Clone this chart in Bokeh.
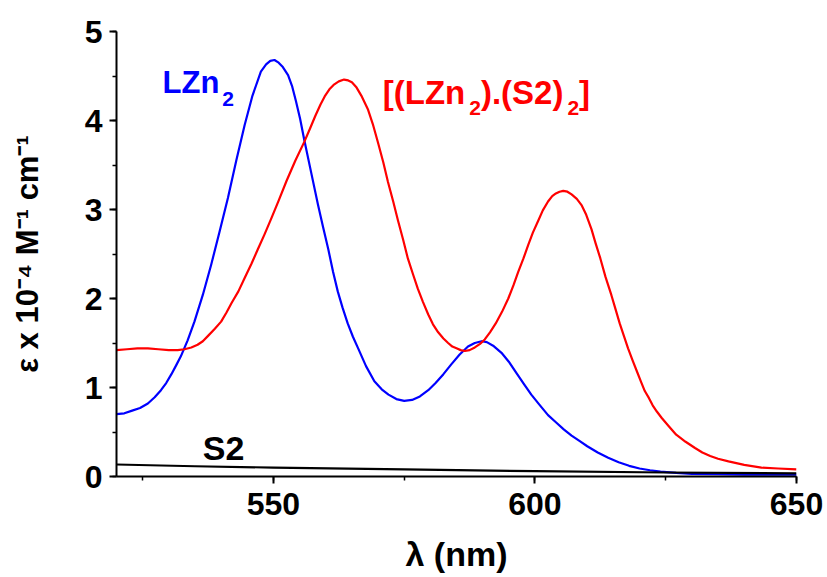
from bokeh.plotting import figure
from bokeh.models import Label, SingleIntervalTicker, Range1d
from bokeh.embed import file_html
from bokeh.resources import INLINE

# ---- data ----
lzn2_wl = [520, 521.5, 523, 524.5, 526, 527.3, 528.5, 529.5, 530.5, 531.5, 532.3, 533.6, 534.9,
           536.5, 538.1, 539.7, 541.3, 542.9, 544.5, 546, 547.6, 548.6, 549.4, 550.2, 551, 551.8,
           552.8, 553.6, 554.3, 555.1, 555.9, 557.2, 558.5, 559.5, 560.5, 561.4, 562.3, 563.2,
           564.2, 565.2, 566.2, 567.7, 569.3, 570.7, 572, 573.5, 575, 576.5, 578, 579.6, 581,
           582.5, 584, 585.6, 587.2, 588.5, 589.8, 590.8, 592, 593.6, 595, 596.5, 598, 599.3,
           600.8, 602.5, 604, 605.5, 607, 608.5, 610, 612, 614, 616, 618, 620, 622, 624, 627,
           630, 635, 640, 650]
lzn2_eps = [0.70, 0.71, 0.74, 0.77, 0.82, 0.89, 0.97, 1.05, 1.15, 1.26, 1.35, 1.53, 1.74,
            2.04, 2.38, 2.75, 3.13, 3.55, 3.95, 4.28, 4.55, 4.63, 4.67, 4.68, 4.65, 4.60,
            4.51, 4.38, 4.22, 4.02, 3.78, 3.42, 3.06, 2.80, 2.55, 2.30, 2.08, 1.90,
            1.72, 1.57, 1.44, 1.24, 1.07, 0.98, 0.92, 0.87, 0.85, 0.86, 0.90, 0.97, 1.05,
            1.15, 1.26, 1.37, 1.46, 1.50, 1.52, 1.51, 1.47, 1.39, 1.29, 1.16, 1.03, 0.92,
            0.81, 0.69, 0.61, 0.53, 0.46, 0.40, 0.34, 0.27, 0.21, 0.16, 0.12, 0.09, 0.07, 0.055, 0.04,
            0.03, 0.025, 0.02, 0.02]

complex_wl = [520, 522, 524, 526, 528, 530, 531.7, 533, 534.3, 535.5, 536.5, 537.5, 538.8, 540,
              541, 542, 543.3, 544.5, 545.8, 547, 548.3, 549.6, 551, 552.5, 554.2, 555.9, 557,
              558, 559, 559.8, 560.7, 561.5, 562.5, 563.5, 564.3, 565, 565.9, 566.8, 568.1, 569,
              570, 571, 571.9, 572.9, 573.8, 574.8, 575.7, 576.7, 577.6, 578.6, 579.6, 580.5,
              581.5, 582.5, 583.4, 584.2, 585, 585.8, 586.6, 587.5, 588.5, 589.5, 590.4, 591.4,
              592.5, 593.7, 594.9, 595.9, 596.8, 597.8, 598.7, 599.6, 600.6, 601.5, 602.5, 603.3,
              604, 604.7, 605.4, 606.2, 607, 608, 608.9, 609.8, 610.8, 611.6, 612.5, 613.5, 614.6,
              615.4, 616.2, 617, 617.8, 618.7, 619.5, 620.3, 621, 621.8, 622.5, 623.3, 624.2,
              625.5, 627, 628.8, 630.6, 632, 633.5, 635, 637, 640, 643.3, 646.5, 650]
complex_eps = [1.42, 1.43, 1.44, 1.44, 1.43, 1.42, 1.42, 1.43, 1.45, 1.48, 1.52, 1.58, 1.66, 1.74,
               1.84, 1.95, 2.08, 2.23, 2.39, 2.55, 2.72, 2.90, 3.10, 3.32, 3.55, 3.76, 3.91,
               4.05, 4.18, 4.27, 4.35, 4.40, 4.44, 4.46, 4.45, 4.43, 4.37, 4.28, 4.12, 3.96,
               3.75, 3.53, 3.31, 3.09, 2.88, 2.66, 2.45, 2.27, 2.11, 1.96, 1.82, 1.71,
               1.62, 1.55, 1.50, 1.46, 1.44, 1.42, 1.41, 1.42, 1.45, 1.49, 1.54, 1.62,
               1.72, 1.85, 2.00, 2.15, 2.30, 2.45, 2.60, 2.74, 2.87, 2.99, 3.09, 3.15,
               3.18, 3.20, 3.21, 3.20, 3.17, 3.12, 3.05, 2.94, 2.78, 2.62, 2.45, 2.24, 2.04,
               1.88, 1.72, 1.58, 1.44, 1.30, 1.18, 1.06, 0.96, 0.88, 0.80, 0.73, 0.66,
               0.57, 0.47, 0.39, 0.32, 0.27, 0.23, 0.20, 0.17, 0.13, 0.10, 0.09, 0.08]

s2_wl = [520, 535, 550, 575, 600, 625, 650]
s2_eps = [0.135, 0.115, 0.10, 0.08, 0.06, 0.045, 0.035]

FONT = "Liberation Sans"

p = figure(width=827, height=577, output_backend="svg", toolbar_location=None,
           x_range=Range1d(520, 650), y_range=Range1d(0, 5),
           min_border_left=116, min_border_right=31, min_border_top=31, min_border_bottom=101)
p.outline_line_color = None
p.xgrid.visible = False
p.ygrid.visible = False
p.background_fill_color = "white"
p.border_fill_color = "white"

p.line(lzn2_wl, lzn2_eps, line_color="#0000FF", line_width=2.2, line_join="round")
p.line(complex_wl, complex_eps, line_color="#FF0000", line_width=2.2, line_join="round")
p.line(s2_wl, s2_eps, line_color="black", line_width=2.2, line_join="round")

p.xaxis.ticker = SingleIntervalTicker(interval=50, num_minor_ticks=2)
p.yaxis.ticker = SingleIntervalTicker(interval=1, num_minor_ticks=2)

for ax in (p.xaxis[0], p.yaxis[0]):
    ax.axis_line_width = 2
    ax.axis_line_color = "black"
    ax.major_tick_line_width = 2
    ax.minor_tick_line_width = 1.5
    ax.major_tick_in = 0
    ax.major_tick_out = 7
    ax.minor_tick_in = 0
    ax.minor_tick_out = 4
    ax.major_label_text_font = FONT
    ax.major_label_text_font_style = "bold"
    ax.major_label_text_font_size = "32px"
    ax.major_label_text_color = "black"
    ax.axis_label_text_font = FONT
    ax.axis_label_text_font_style = "bold"
    ax.axis_label_text_color = "black"

p.xaxis.axis_label = "λ (nm)"
p.xaxis.axis_label_text_font_size = "34px"
p.xaxis.major_label_standoff = 9
p.xaxis.axis_label_standoff = 17
p.yaxis.axis_label = "ε x 10⁻⁴ M⁻¹ cm⁻¹"
p.yaxis.axis_label_text_font_size = "31px"
p.yaxis.major_label_standoff = 7
p.yaxis.axis_label_standoff = 37

MID = 0.3465  # distance (em) from middle of the text box down to the baseline


def add_text(x, y, pieces, color, size, sub_size, sub_drop, gap):
    """pieces: list of (text, is_subscript, advance_em); (x, y) is the baseline start."""
    off = 0.0
    for txt, is_sub, adv in pieces:
        fs = sub_size if is_sub else size
        if is_sub:
            off += gap
        dy = MID * fs - (sub_drop if is_sub else 0)
        p.add_layout(Label(x=x, y=y, x_offset=off, y_offset=dy,
                           text=txt, text_color=color, text_font=FONT, text_font_style="bold",
                           text_font_size=f"{fs}px",
                           text_baseline="middle", text_align="left"))
        off += adv * fs


# curve annotations (advance widths of Arial/Liberation Sans Bold, em units)
add_text(528.8, 4.31, [("LZn", False, 1.833), ("2", True, 0.556)], "#0000FF", 31, 21, 13, 3)
add_text(570.9, 4.19, [("[(LZn", False, 2.499), ("2", True, 0.556), (").(S2)", False, 2.5),
                       ("2", True, 0.556), ("]", False, 0.333)], "#FF0000", 33, 21, 12, 4)
add_text(536.5, 0.19, [("S2", False, 1.223)], "black", 34, 21, 0, 0)

open("out.html", "w").write(file_html(p, INLINE))
